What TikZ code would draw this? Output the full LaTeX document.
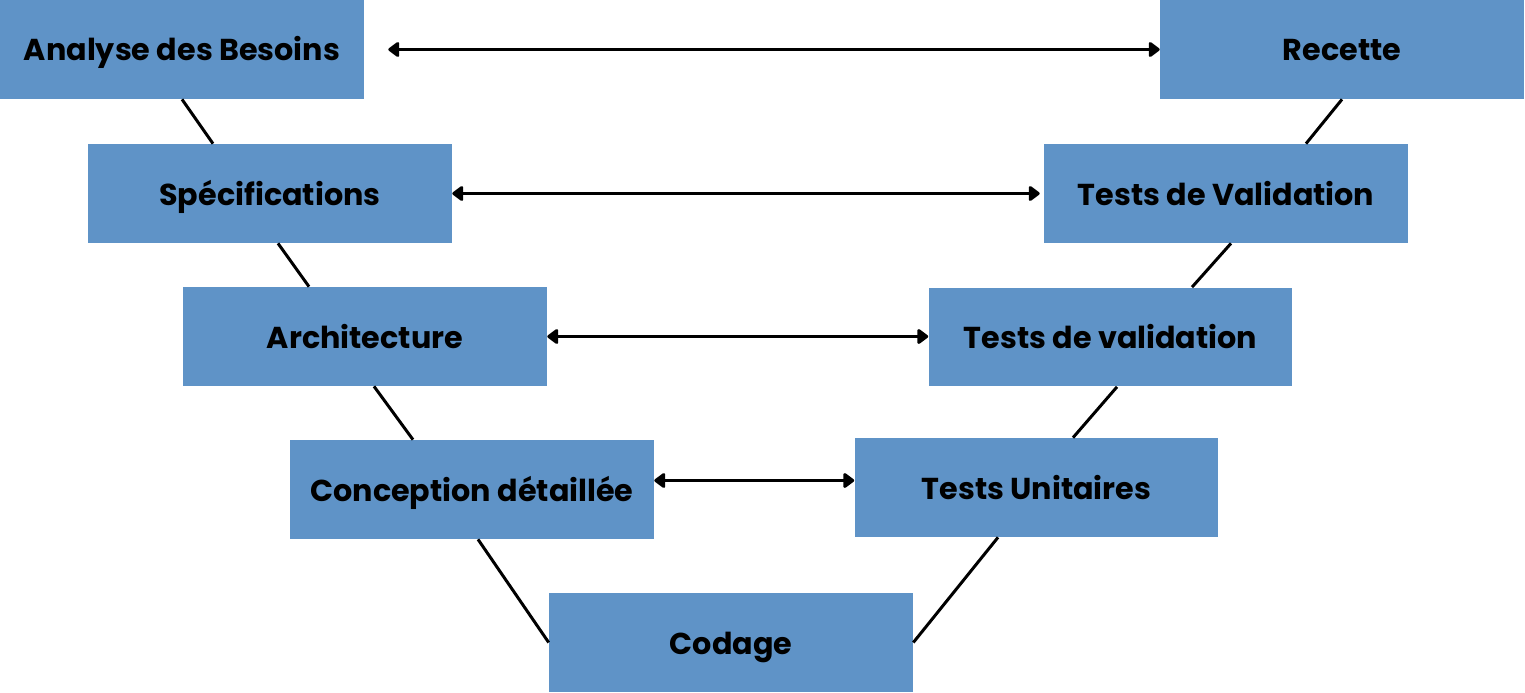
\documentclass[tikz,border=0pt]{standalone}
\usepackage{fontspec}
\setmainfont{Poppins}
\usetikzlibrary{arrows.meta,calc,positioning}
\definecolor{vblue}{RGB}{95,147,199}

\begin{document}
\begin{tikzpicture}[x=0.02cm,y=-0.02cm,
    phase/.style={fill=vblue, minimum width=7.28cm, minimum height=1.98cm, inner sep=0pt,
      text height=0.46cm, text depth=0pt,
      font=\fontsize{17.2}{20}\selectfont\bfseries},
    link/.style={line width=1.7pt},
    trace/.style={line width=2pt,
      {Triangle[length=0.24cm,width=0.34cm,round]}-{Triangle[length=0.24cm,width=0.34cm,round]}}]
        \useasboundingbox (0,0) rectangle (1525,693);
        %Left branch
        \node[phase] (analyse) at (182,49.5) {Analyse des Besoins};
        \node[phase] (spec) at (270,193.5) {Spécifications};
        \node[phase] (archi) at (365,336.5) {Architecture};
        \node[phase] (conception) at (472,489.5) {Conception détaillée};
        %Bottom
        \node[phase] (codage) at (731,642.5) {Codage};
        %Right branch
        \node[phase] (unitaires) at (1036.5,487.5) {Tests Unitaires};
        \node[phase] (integration) at (1110.5,337) {Tests de validation};
        \node[phase] (validation) at (1226,193.5) {Tests de Validation};
        \node[phase] (recette) at (1342,49.5) {Recette};
        %V edges
        \draw[link] (analyse.south) -- ($(spec.north)+(-57,0)$);
        \draw[link] ($(spec.south)+(8,0)$) -- ($(archi.north)+(-56,0)$);
        \draw[link] ($(archi.south)+(9,0)$) -- ($(conception.north)+(-59,0)$);
        \draw[link] ($(conception.south)+(6,0)$) -- (codage.west);
        \draw[link] (codage.east) -- ($(unitaires.south)+(-38.5,0)$);
        \draw[link] ($(unitaires.north)+(36.5,0)$) -- ($(integration.south)+(6.5,0)$);
        \draw[link] ($(integration.north)+(81.5,0)$) -- ($(validation.south)+(5,0)$);
        \draw[link] ($(validation.north)+(80,0)$) -- (recette.south);
        %Traceability arrows
        \draw[trace, shorten <=0.48cm] (analyse.east) -- (recette.west);
        \draw[trace, shorten >=0.08cm] (spec.east) -- (validation.west);
        \draw[trace] (archi.east) -- (archi.east -| integration.west);
        \draw[trace] ($(conception.east)+(0,-9)$) coordinate (c) -- (c -| unitaires.west);
\end{tikzpicture}
\end{document}
